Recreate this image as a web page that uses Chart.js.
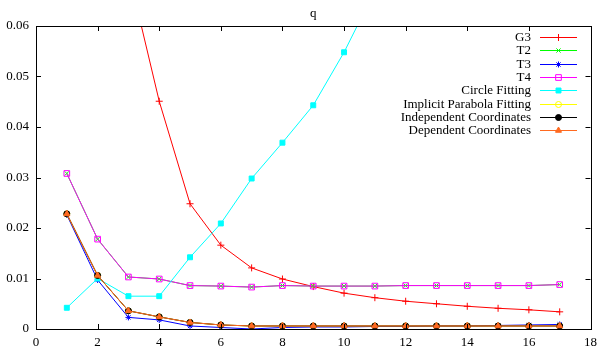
<!DOCTYPE html>
<html>
<head>
<meta charset="utf-8">
<script src="https://cdn.jsdelivr.net/npm/chart.js@4/dist/chart.umd.min.js"></script>
<style>
html, body { margin: 0; padding: 0; background: #fff; }
#wrap { width: 603px; height: 349px; }
</style>
</head>
<body>
<div id="wrap"><canvas id="chart" width="603" height="349"></canvas></div>
<script>
// sample index
var xs = [1, 2, 3, 4, 5, 6, 7, 8, 9, 10, 11, 12, 13, 14, 15, 16, 17];

var g3 = [0.150, 0.110, 0.0708, 0.0451, 0.0248, 0.0166, 0.0121, 0.0099, 0.0084, 0.0071, 0.0062, 0.0055, 0.0050, 0.0045, 0.0041, 0.0038, 0.0034];
var t2 = [0.0308, 0.0178, 0.0103, 0.0099, 0.0086, 0.0085, 0.0083, 0.0086, 0.0085, 0.0085, 0.0085, 0.0086, 0.0086, 0.0086, 0.0086, 0.0086, 0.0088];
var t3 = [0.0226, 0.0097, 0.0023, 0.0018, 0.0006, 0.0003, 0.0000, 0.0003, 0.0004, 0.0004, 0.0005, 0.0005, 0.0006, 0.0006, 0.0007, 0.0008, 0.0009];
var t4 = [0.0308, 0.0178, 0.0103, 0.0099, 0.0086, 0.0085, 0.0083, 0.0086, 0.0085, 0.0085, 0.0085, 0.0086, 0.0086, 0.0086, 0.0086, 0.0086, 0.0088];
var circleFit = [0.0042, 0.0100, 0.0065, 0.0065, 0.0142, 0.0209, 0.0298, 0.0369, 0.0443, 0.0548, 0.067, 0.081, 0.097, 0.115, 0.135, 0.157, 0.181];
var parabolaFit = [0.0228, 0.0106, 0.0036, 0.0024, 0.0013, 0.0008, 0.0006, 0.0006, 0.0006, 0.0006, 0.0006, 0.0006, 0.0006, 0.0006, 0.0006, 0.0006, 0.0006];
var indepCoords = [0.0228, 0.0106, 0.0036, 0.0024, 0.0013, 0.0008, 0.0006, 0.0006, 0.0006, 0.0006, 0.0006, 0.0006, 0.0006, 0.0006, 0.0006, 0.0006, 0.0006];
var depCoords = [0.0228, 0.0106, 0.0036, 0.0024, 0.0013, 0.0008, 0.0006, 0.0006, 0.0006, 0.0006, 0.0006, 0.0006, 0.0006, 0.0006, 0.0006, 0.0006, 0.0006];

var xTicks = [0, 2, 4, 6, 8, 10, 12, 14, 16, 18];
var yTicks = [0, 0.01, 0.02, 0.03, 0.04, 0.05, 0.06];

var FONT = "'Liberation Serif', 'DejaVu Serif', serif";

function pts(arr){
  var out = [];
  for (var i = 0; i < xs.length; i++) out.push({x: xs[i], y: arr[i]});
  return out;
}

function series(label, arr, color, style, radius, fill){
  return {
    label: label,
    data: pts(arr),
    borderColor: color,
    backgroundColor: fill ? color : 'rgba(0,0,0,0)',
    borderWidth: 1,
    pointStyle: style,
    pointRadius: radius,
    pointBorderColor: color,
    pointBackgroundColor: fill ? color : 'rgba(0,0,0,0)',
    pointBorderWidth: 1,
    fill: false,
    tension: 0
  };
}

var datasets = [
  series('G3', g3, '#ff0000', 'cross', 3.5, false),
  series('T2', t2, '#00ff00', 'crossRot', 3, false),
  series('T3', t3, '#0000ff', 'star', 3, false),
  series('T4', t4, '#ff00ff', 'rect', 4, false),
  series('Circle Fitting', circleFit, '#00ffff', 'rect', 3.5, true),
  series('Implicit Parabola Fitting', parabolaFit, '#ffff00', 'circle', 3, false),
  series('Independent Coordinates', indepCoords, '#000000', 'circle', 3, true),
  series('Dependent Coordinates', depCoords, '#ff6a20', 'triangle', 3.5, true)
];
// gnuplot draws later curves on top
datasets.forEach(function(d, i){ d.order = datasets.length - i; });

var framePlugin = {
  id: 'frame',
  afterDraw: function(chart){
    var ctx = chart.ctx, a = chart.chartArea;
    var sx = chart.scales.x, sy = chart.scales.y;
    ctx.save();
    ctx.strokeStyle = '#000';
    ctx.lineWidth = 1;
    ctx.strokeRect(Math.round(a.left) + 0.5, Math.round(a.top) + 0.5,
                   Math.round(a.right - a.left), Math.round(a.bottom - a.top));
    ctx.beginPath();
    xTicks.forEach(function(v){
      var px = Math.round(sx.getPixelForValue(v)) + 0.5;
      ctx.moveTo(px, a.bottom); ctx.lineTo(px, a.bottom - 5);
      ctx.moveTo(px, a.top); ctx.lineTo(px, a.top + 5);
    });
    yTicks.forEach(function(v){
      var py = Math.round(sy.getPixelForValue(v)) + 0.5;
      ctx.moveTo(a.left, py); ctx.lineTo(a.left + 5, py);
      ctx.moveTo(a.right, py); ctx.lineTo(a.right - 5, py);
    });
    ctx.stroke();

    // title
    ctx.fillStyle = '#000';
    ctx.font = '13px ' + FONT;
    ctx.textAlign = 'center';
    ctx.textBaseline = 'middle';
    ctx.fillText('q', (a.left + a.right) / 2, 14);

    // legend, gnuplot style: text right aligned, sample on the right
    var textX = 531, x0 = 540, x1 = 577, y0 = 37, dy = 13.3;
    chart.data.datasets.forEach(function(d, i){
      var y = Math.round(y0 + i * dy) + 0.5;
      ctx.textAlign = 'right';
      ctx.fillStyle = '#000';
      ctx.fillText(d.label, textX, y);
      ctx.strokeStyle = d.borderColor;
      ctx.lineWidth = 1;
      ctx.beginPath();
      ctx.moveTo(x0, y); ctx.lineTo(x1, y);
      ctx.stroke();
      ctx.fillStyle = d.pointBackgroundColor;
      Chart.helpers.drawPoint(ctx, {
        pointStyle: d.pointStyle, radius: d.pointRadius, rotation: 0, borderWidth: 1
      }, (x0 + x1) / 2, y);
    });
    ctx.restore();
  }
};

var chart = new Chart(document.getElementById('chart').getContext('2d'), {
  type: 'line',
  data: { datasets: datasets },
  options: {
    responsive: false,
    animation: false,
    layout: { padding: { top: 26, right: 12, left: 0, bottom: 0 } },
    plugins: { legend: { display: false }, title: { display: false }, tooltip: { enabled: false } },
    scales: {
      x: {
        type: 'linear', min: 0, max: 18,
        afterBuildTicks: function(s){ s.ticks = xTicks.map(function(v){ return {value: v}; }); },
        afterFit: function(s){ s.height = 20; },
        grid: { display: false, drawTicks: false },
        border: { display: false },
        ticks: { color: '#000', padding: 6, maxRotation: 0, font: { family: FONT, size: 13 } }
      },
      y: {
        type: 'linear', min: 0, max: 0.06,
        afterBuildTicks: function(s){ s.ticks = yTicks.map(function(v){ return {value: v}; }); },
        afterFit: function(s){ s.width = 36; },
        grid: { display: false, drawTicks: false },
        border: { display: false },
        ticks: { color: '#000', padding: 7, font: { family: FONT, size: 13 },
          callback: function(v){ return v === 0 ? '0' : v.toFixed(2); } }
      }
    }
  },
  plugins: [framePlugin]
});
</script>
</body>
</html>
